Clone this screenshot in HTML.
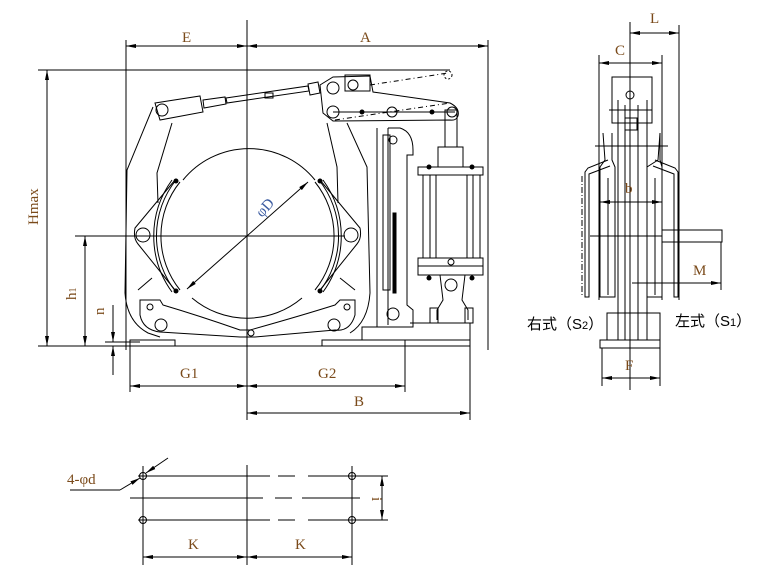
<!DOCTYPE html>
<html><head><meta charset="utf-8"><style>
html,body{margin:0;padding:0;background:#fff;}
svg{display:block;}
.l{fill:none;stroke:#000;stroke-width:1;}
.t{stroke:#000;stroke-width:1.6;fill:none;}
.d{fill:none;stroke:#000;stroke-width:0.8;stroke-dasharray:14 4 2 4;}
.dt{font-family:"Liberation Serif",serif;fill:#7a4a1a;font-size:15px;}
.cn{font-family:"Liberation Sans","Noto Sans CJK SC",sans-serif;fill:#000;font-size:15px;}
</style></head><body>
<svg width="761" height="588" viewBox="0 0 761 588" xmlns="http://www.w3.org/2000/svg">
<defs><marker id="a" viewBox="0 0 10 6" refX="10" refY="3" markerWidth="10" markerHeight="6" orient="auto-start-reverse"><path d="M0,1 L10,3 L0,5z" fill="#000"/></marker></defs>

<!-- ===== FRONT VIEW: dimension lines ===== -->
<g class="l">
<line x1="247" y1="20" x2="247" y2="420"/>
<line x1="126" y1="40" x2="126" y2="350"/>
<line x1="488" y1="40" x2="488" y2="350"/>
<line x1="126" y1="46" x2="247" y2="46" marker-start="url(#a)" marker-end="url(#a)"/>
<line x1="247" y1="46" x2="488" y2="46" marker-start="url(#a)" marker-end="url(#a)"/>
<line x1="38" y1="70" x2="450" y2="70"/>
<line x1="47" y1="70" x2="47" y2="346" marker-start="url(#a)" marker-end="url(#a)"/>
<line x1="75" y1="236" x2="345" y2="236"/>
<line x1="85" y1="236" x2="85" y2="346" marker-start="url(#a)" marker-end="url(#a)"/>
<line x1="38" y1="346" x2="470" y2="346"/>
<line x1="105" y1="342" x2="140" y2="342"/>
<line x1="113" y1="305" x2="113" y2="342" marker-end="url(#a)"/>
<line x1="113" y1="346" x2="113" y2="375" marker-start="url(#a)"/>
<line x1="130" y1="340" x2="130" y2="392"/>
<line x1="405" y1="340" x2="405" y2="392"/>
<line x1="470" y1="340" x2="470" y2="420"/>
<line x1="130" y1="386" x2="247" y2="386" marker-start="url(#a)" marker-end="url(#a)"/>
<line x1="247" y1="386" x2="405" y2="386" marker-start="url(#a)" marker-end="url(#a)"/>
<line x1="247" y1="413" x2="470" y2="413" marker-start="url(#a)" marker-end="url(#a)"/>
</g>
<text class="dt" x="182" y="42">E</text>
<text class="dt" x="360" y="42">A</text>
<text class="dt" transform="translate(38,225) rotate(-90)">Hmax</text>
<text class="dt" transform="translate(76,300) rotate(-90)">h<tspan font-size="10">1</tspan></text>
<text class="dt" transform="translate(104,315) rotate(-90)">n</text>
<text class="dt" x="180" y="378">G1</text>
<text class="dt" x="318" y="378">G2</text>
<text class="dt" x="354" y="406">B</text>

<!-- ===== FRONT VIEW: brake body ===== -->
<g class="l">
<!-- drum -->
<path d="M183,180 A85,85 0 0 1 315,180"/>
<path d="M192,298 A85,85 0 0 0 302,298"/>
<line x1="175" y1="236" x2="195" y2="236"/>
<line x1="265" y1="236" x2="280" y2="236"/>
<line x1="300" y1="236" x2="340" y2="236"/>
<line x1="187" y1="289" x2="308" y2="182" marker-start="url(#a)" marker-end="url(#a)"/>
<!-- left arm -->
<path d="M153,107 L127,170 L125,293 Q127,322 148,333 L160,337"/>
<path d="M172,123 L157,173 L158,203"/>
<!-- right arm -->
<path d="M347,123 L367,167 L370,293 Q368,322 350,333"/>
<path d="M327,123 L337,167 L338,203"/>
<!-- left shoe -->
<path d="M175,180 L135,228 Q133,238 138,244 L175,290"/>
<path d="M172,180 A95,95 0 0 0 172,292"/>
<path d="M176,180 A90,90 0 0 0 176,292"/>
<path d="M180,182 A86,86 0 0 0 180,290"/>
<!-- right shoe -->
<path d="M320,180 L360,228 Q362,238 357,244 L320,290"/>
<path d="M323,180 A95,95 0 0 1 323,292"/>
<path d="M319,180 A90,90 0 0 1 319,292"/>
<path d="M315,182 A86,86 0 0 1 315,290"/>
<!-- lower link -->
<path d="M140,300 L160,300 L163,305 Q200,316 240,330 L250,330 Q300,316 335,305 L340,300 L355,300 L355,315 Q350,332 335,330 L255,337 L240,337 L160,332 Q143,330 140,315 Z"/>
<!-- base plates -->
<rect x="130" y="340" width="45" height="6"/>
<rect x="322" y="340" width="83" height="6"/>
<!-- top rod -->
<path d="M155,103 L200,96 L203,112 L160,120 Z"/>
<path d="M203,100 L225,97 L226,104 L204,108 Z"/>
<path d="M226,98 L308,86 L309,91 L227,103 Z"/>
<rect x="265" y="93" width="8" height="5"/>
<path d="M308,84 L318,82 L320,93 L310,95 Z"/>
<!-- top lever -->
<path d="M320,85 L333,77 L370,76 L373,92 L450,103 Q460,108 458,116 Q456,121 450,120 L333,121 L323,113 Z"/>
<rect x="345" y="75" width="25" height="16"/>
<line x1="333" y1="112" x2="455" y2="112"/>
<path d="M370,85 L448,73" stroke-dasharray="5 3 1 3"/>
<path d="M335,120 L450,103" stroke-dasharray="5 3 1 3"/>
<circle cx="448" cy="75" r="4" stroke-dasharray="2 2"/>
<!-- column -->
<path d="M377,128 L377,327"/><path d="M383,135 L383,290 L390,290 L390,135 Z"/>
<path d="M388,128 L400,128 Q413,132 413,150 L413,155 L407,155 L407,305 L413,310 L413,327 L362,327 L362,340 L470,340 L470,323 L410,323"/>
<path d="M388,128 L388,325"/>
<rect x="393" y="213" width="3" height="80" fill="#000"/>
<!-- cylinder -->
<rect x="445" y="110" width="12" height="37"/>
<rect x="438" y="147" width="25" height="20"/>
<rect x="418" y="167" width="65" height="8"/>
<rect x="423" y="175" width="57" height="83"/>
<line x1="430" y1="175" x2="430" y2="258"/><line x1="436" y1="175" x2="436" y2="258"/>
<line x1="467" y1="175" x2="467" y2="258"/><line x1="473" y1="175" x2="473" y2="258"/>
<rect x="418" y="258" width="65" height="8"/>
<rect x="418" y="266" width="65" height="9"/>
<path d="M440,275 L443,300 L437,310 L437,320 M465,275 L462,300 L468,310 L468,320"/>
<circle cx="451" cy="285" r="6"/>
<rect x="430" y="308" width="8" height="15"/><rect x="465" y="308" width="8" height="15"/>
<!-- pins -->
<circle cx="162" cy="110" r="6"/><circle cx="333" cy="88" r="6"/><circle cx="333" cy="112" r="6"/>
<circle cx="353" cy="85" r="5"/><circle cx="392" cy="112" r="5"/><circle cx="393" cy="140" r="4"/>
<circle cx="452" cy="112" r="5"/>
<circle cx="143" cy="235" r="7"/><circle cx="351" cy="235" r="7"/>
<circle cx="161" cy="325" r="6"/><circle cx="334" cy="325" r="6"/>
<circle cx="150" cy="307" r="3"/><circle cx="347" cy="307" r="3"/>
<circle cx="393" cy="314" r="6"/><circle cx="251" cy="333" r="3"/>
<circle cx="451" cy="262" r="3"/>
<path d="M138,290 L152,278 M340,278 L355,290"/>
</g>
<g fill="#000"><circle cx="362" cy="112" r="2.5"/><circle cx="432" cy="112" r="2.5"/>
<circle cx="176" cy="181" r="2.5"/><circle cx="176" cy="291" r="2.5"/><circle cx="320" cy="181" r="2.5"/><circle cx="320" cy="291" r="2.5"/>
<circle cx="429" cy="167" r="2.5"/><circle cx="472" cy="167" r="2.5"/><circle cx="429" cy="278" r="2.5"/><circle cx="472" cy="278" r="2.5"/></g>
<text class="dt" transform="translate(262,218) rotate(-48)" fill="#1a4aa0" style="fill:#3a5aa0">φD</text>

<!-- ===== SIDE VIEW ===== -->
<g class="l">
<line x1="630" y1="22" x2="630" y2="390"/>
<line x1="679" y1="25" x2="679" y2="300"/>
<line x1="599" y1="55" x2="599" y2="300"/>
<line x1="662" y1="55" x2="662" y2="300"/>
<line x1="630" y1="33" x2="679" y2="33" marker-start="url(#a)" marker-end="url(#a)"/>
<line x1="599" y1="63" x2="662" y2="63" marker-start="url(#a)" marker-end="url(#a)"/>
<rect x="612" y="77" width="40" height="46"/>
<line x1="609" y1="110" x2="652" y2="110"/>
<path d="M618,100 L618,340 M647,100 L647,340 M625,105 L625,340 M638,105 L638,340"/>
<rect x="625" y="118" width="12" height="12"/>
<line x1="595" y1="146" x2="668" y2="146"/>
<path d="M603,133 L605,160 L600,167 L600,297 L615,297 L615,167 L612,160 L612,133"/>
<path d="M660,133 L658,160 L647,167 L647,297 L662,297 L662,167 L660,160 L660,133"/>
<path d="M608,160 L588,168 L585,172 L585,297 L589,297 L589,174 L610,166"/>
<path d="M655,160 L675,168 L678,172 L678,297 L674,297 L674,174 L653,166"/>
<path d="M582,176 L582,297" stroke-dasharray="6 2 1 2"/>
<path d="M608,178 L608,295 M655,178 L655,295"/>
<line x1="600" y1="202" x2="662" y2="202" marker-start="url(#a)" marker-end="url(#a)"/>
<line x1="590" y1="236" x2="662" y2="236"/>
<rect x="662" y="230" width="60" height="12"/>
<line x1="721" y1="242" x2="721" y2="290"/>
<line x1="632" y1="283" x2="721" y2="283" marker-end="url(#a)"/>
<rect x="607" y="313" width="53" height="27"/>
<rect x="600" y="340" width="60" height="8"/>
<line x1="602" y1="348" x2="602" y2="386"/><line x1="660" y1="348" x2="660" y2="386"/>
<line x1="602" y1="378" x2="660" y2="378" marker-start="url(#a)" marker-end="url(#a)"/>
<circle cx="630" cy="95" r="4"/>
</g>
<text class="dt" x="650" y="23">L</text>
<text class="dt" x="615" y="55">C</text>
<text class="dt" x="625" y="193">b</text>
<text class="dt" x="693" y="275">M</text>
<text class="dt" x="625" y="370">F</text>
<text class="cn" x="527" y="329">右式（S<tspan font-size="11">2</tspan>）</text>
<text class="cn" x="675" y="326">左式（S<tspan font-size="11">1</tspan>）</text>

<!-- ===== BOTTOM HOLE PATTERN ===== -->
<g class="l">
<line x1="247" y1="465" x2="247" y2="565"/>
<line x1="138" y1="476" x2="270" y2="476"/><line x1="278" y1="476" x2="295" y2="476"/><line x1="308" y1="476" x2="388" y2="476"/>
<line x1="130" y1="498" x2="263" y2="498"/><line x1="275" y1="498" x2="292" y2="498"/><line x1="302" y1="498" x2="360" y2="498"/>
<line x1="138" y1="520" x2="270" y2="520"/><line x1="278" y1="520" x2="295" y2="520"/><line x1="308" y1="520" x2="388" y2="520"/>
<circle cx="143" cy="476" r="3.5"/><circle cx="143" cy="520" r="3.5"/><circle cx="352" cy="476" r="3.5"/><circle cx="352" cy="520" r="3.5"/>
<line x1="143" y1="466" x2="143" y2="565"/><line x1="352" y1="466" x2="352" y2="565"/>
<line x1="382" y1="476" x2="382" y2="520" marker-start="url(#a)" marker-end="url(#a)"/>
<line x1="143" y1="557" x2="247" y2="557" marker-start="url(#a)" marker-end="url(#a)"/>
<line x1="247" y1="557" x2="352" y2="557" marker-start="url(#a)" marker-end="url(#a)"/>
<line x1="70" y1="490" x2="120" y2="490"/>
<line x1="120" y1="490" x2="140" y2="478" marker-end="url(#a)"/>
<line x1="168" y1="458" x2="146" y2="473" marker-end="url(#a)"/>
</g>
<text class="dt" x="67" y="484" font-size="18">4-φd</text>
<text class="dt" x="188" y="549">K</text>
<text class="dt" x="295" y="549">K</text>
<text class="dt" transform="translate(372,497) rotate(90)" font-size="12">i</text>
</svg>
</body></html>
